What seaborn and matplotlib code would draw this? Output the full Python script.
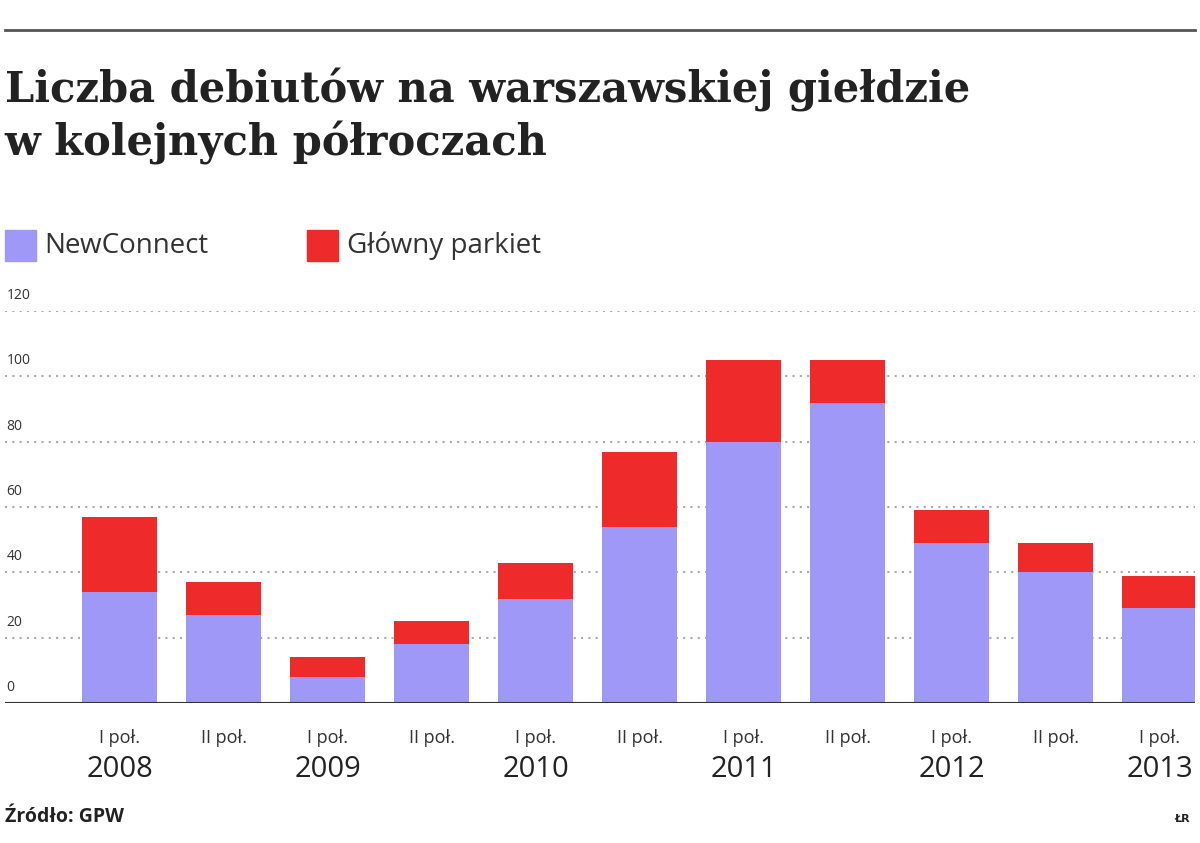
import matplotlib
matplotlib.use("Agg")
import matplotlib.pyplot as plt
import seaborn as sns
import pandas as pd

periods = ["I poł.", "II poł.", "I poł.", "II poł.", "I poł.", "II poł.", "I poł.", "II poł.", "I poł.", "II poł.", "I poł."]
years = ["2008", "", "2009", "", "2010", "", "2011", "", "2012", "", "2013"]
newconnect = [34, 27, 8, 18, 32, 54, 80, 92, 49, 40, 29]
glowny = [23, 10, 6, 7, 11, 23, 25, 13, 10, 9, 10]
yticks = [0, 20, 40, 60, 80, 100, 120]

totals = [a + b for a, b in zip(newconnect, glowny)]
df = pd.DataFrame({"x": range(len(periods)), "nc": newconnect, "tot": totals})

fig = plt.figure(figsize=(12, 8.43), dpi=100)
ax = fig.add_axes([0.004, 0.166, 0.992, 0.465])
sns.barplot(data=df, x="x", y="tot", color="#ee2a2a", width=0.72, ax=ax, saturation=1)
sns.barplot(data=df, x="x", y="nc", color="#9f98f6", width=0.72, ax=ax, saturation=1)
ax.set_ylim(0, 120)
ax.set_xlim(-1.106, 10.34)
for s in ax.spines.values():
    s.set_visible(False)
ax.set_xlabel(""); ax.set_ylabel("")
ax.set_yticks([])
ax.set_xticks([])
for v in yticks:
    ax.axhline(v, color="#aaaaaa", lw=1.5, ls=(0, (1, 2.5)), zorder=0)
    ax.text(-1.09, v + 2.5, str(v), fontsize=10, color="#333333", va="bottom", ha="left", family="Open Sans")
ax.axhline(0, color="#333333", lw=1.5, zorder=3)
for i, (p, y) in enumerate(zip(periods, years)):
    ax.text(i, -8, p, ha="center", va="top", fontsize=13, color="#333333", family="Open Sans")
    if y:
        ax.text(i, -16, y, ha="center", va="top", fontsize=21, color="#222222", family="Open Sans")

fig.add_artist(plt.Line2D([0.004, 0.996], [0.965, 0.965], color="#555555", lw=2))
fig.text(0.004, 0.862, "Liczba debiutów na warszawskiej giełdzie\nw kolejnych półroczach", fontsize=30,
         fontweight="bold", family="DejaVu Serif", va="center", ha="left", color="#222222", linespacing=1.25)
fig.patches.append(plt.Rectangle((0.004, 0.69), 0.026, 0.037, color="#9f98f6", transform=fig.transFigure))
fig.text(0.037, 0.708, "NewConnect", fontsize=20, va="center", color="#333333", family="Open Sans")
fig.patches.append(plt.Rectangle((0.256, 0.69), 0.026, 0.037, color="#ee2a2a", transform=fig.transFigure))
fig.text(0.289, 0.708, "Główny parkiet", fontsize=20, va="center", color="#333333", family="Open Sans")
fig.text(0.004, 0.025, "Źródło: GPW", fontsize=14, fontweight="bold", color="#222222", family="Open Sans")
fig.text(0.992, 0.025, "ŁR", fontsize=8, fontweight="bold", ha="right", color="#222222")
fig.savefig("out.png", dpi=100, facecolor="white")
